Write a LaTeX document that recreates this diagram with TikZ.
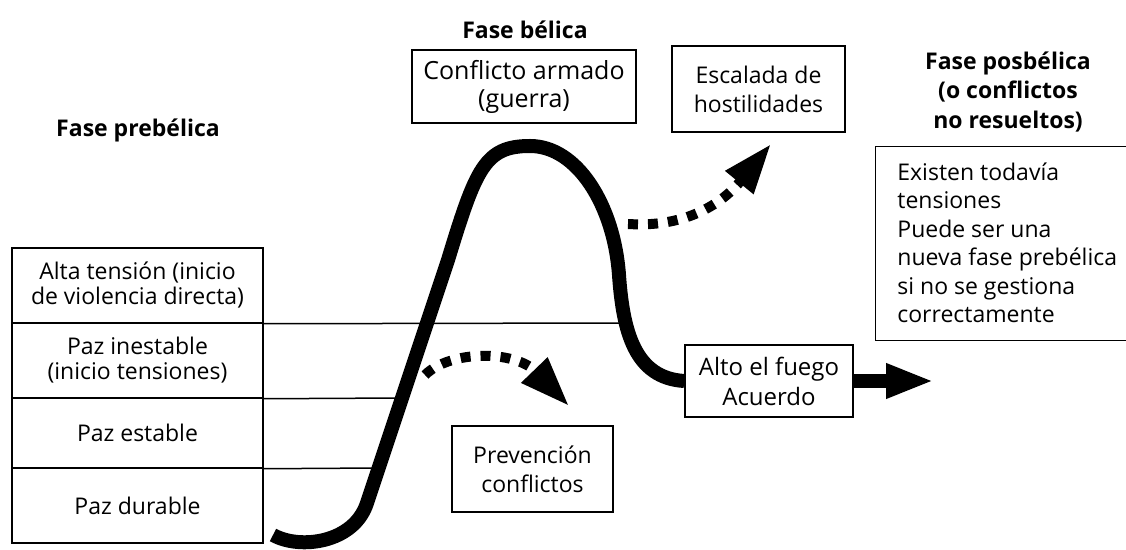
\documentclass[tikz,border=0pt]{standalone}
\usepackage{fontspec}
\setmainfont{Open Sans}
\usetikzlibrary{arrows.meta}

\begin{document}
\begin{tikzpicture}[x=0.5pt, y=-0.5pt,
    every node/.style={font=\fontsize{11.5}{14.5}\selectfont},
    caja/.style={draw, line width=0.75pt, align=center, inner sep=0pt},
    fila/.style={caja, minimum width=125.5pt, font=\fontsize{11.5}{12.5}\selectfont},
    titulo/.style={font=\fontsize{11.5}{14.75}\selectfont\bfseries, align=center},
    curva/.style={line width=7pt, line join=round},
    punteada/.style={line width=5pt, dash pattern=on 5pt off 5pt, -{Triangle[length=25pt,width=17pt]}}]
            \useasboundingbox (0,0) rectangle (1126,550);

            % Fase prebelica
            \node[titulo] (pre) at (138,130) {Fase prebélica};
            \node[fila, minimum height=37.5pt] (alta) at (137.5,285.5) {Alta tensión (inicio\\de violencia directa)};
            \node[fila, minimum height=37.5pt] (inestable) at (137.5,360.5) {Paz inestable\\(inicio tensiones)};
            \node[fila, minimum height=35pt] (estable) at (137.5,433) {Paz estable};
            \node[fila, minimum height=37.5pt] (durable) at (137.5,505.5) {Paz durable};

            % Lineas hasta la curva
            \coordinate (c1) at (625,323);
            \coordinate (c2) at (402,398);
            \coordinate (c3) at (379,468);
            \draw[line width=0.75pt] (alta.south east) -- (c1);
            \draw[line width=0.75pt] (inestable.south east) -- (c2);
            \draw[line width=0.75pt] (estable.south east) -- (c3);

            % Fase belica
            \node[titulo] (bel) at (525,30) {Fase bélica};
            \node[caja, minimum width=112pt, minimum height=36.5pt, font=\fontsize{12.5}{14}\selectfont] (conflicto) at (524,86.5) {Conflicto armado\\(guerra)};
            \node[caja, minimum width=86.5pt, minimum height=43pt] (escalada) at (758.5,89) {Escalada de\\hostilidades};
            \node[caja, minimum width=80.5pt, minimum height=43pt] (prevencion) at (532.5,469) {Prevención\\conflictos};
            \node[caja, minimum width=84pt, minimum height=36pt, font=\fontsize{12}{15}\selectfont] (fuego) at (769,381) {Alto el fuego\\Acuerdo};

            % Fase posbelica
            \node[titulo] (pos) at (1008,92) {Fase posbélica\\(o conflictos\\no resueltos)};
            \node[minimum width=125pt, minimum height=96.5pt, inner sep=0pt] (existen) at (1001,243.5) {};
            \node[align=left, anchor=west, inner sep=0pt, font=\fontsize{11.5}{14.25}\selectfont] (textopos) at (897,243) {Existen todavía\\tensiones\\Puede ser una\\nueva fase prebélica\\si no se gestiona\\correctamente};
            \draw[line width=0.75pt] (existen.north east) -- (existen.north west) -- (existen.south west) -- (existen.south east);

            % Curva
            \coordinate (inicio) at (273,535);
            \draw[curva] (inicio) .. controls (300,550) and (354,543) .. (367,503) -- (448,260)
                .. controls (476,168) and (485,146) .. (530,146)
                .. controls (577,146) and (614,205) .. (619,275)
                .. controls (623,332) and (635,378) .. (fuego.west);

            % Flechas
            \coordinate (s1) at (425,375);
            \coordinate (t1) at (569,406);
            \draw[punteada] (s1) .. controls (450,350) and (515,350) .. (t1);
            \coordinate (s2) at (628,224);
            \coordinate (t2) at (771,144);
            \draw[punteada] (s2) .. controls (690,228) and (725,200) .. (t2);
            \coordinate (t3) at (934,381);
            \draw[curva, -{Triangle[length=24pt,width=16pt]}] (fuego.east) -- (t3);
        \end{tikzpicture}
\end{document}
